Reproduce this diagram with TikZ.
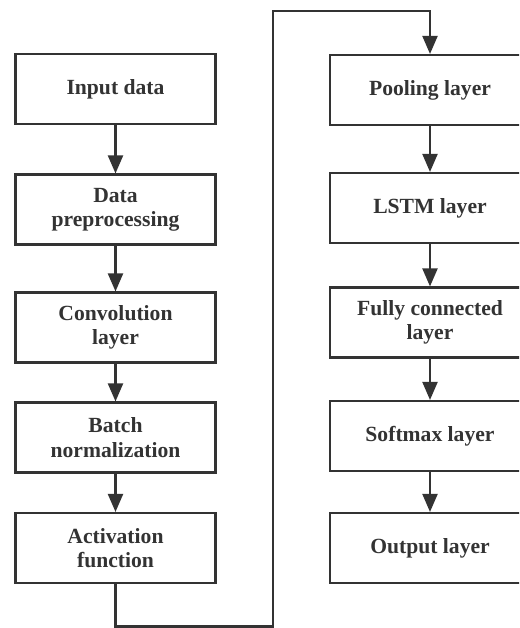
\documentclass[tikz,border=0pt]{standalone}
\usepackage{fontspec}
\setmainfont{Liberation Serif}
\usetikzlibrary{arrows.meta}
\definecolor{ink}{RGB}{51,51,51}
\tikzset{>={Triangle[length=3.6mm,width=3mm]}}
\tikzset{%
    layer/.style={%
        draw=ink, line width=1.2pt, text=ink,
        minimum width=4cm, minimum height=1.4cm, inner sep=2pt,
        align=center, font=\fontsize{12.3}{13.8}\selectfont\bfseries
    },
    flow/.style={->, draw=ink, line width=1.2pt}
}

\begin{document}
\begin{tikzpicture}
    \clip (0,0) rectangle (10.38,12.56);

    % left column
    \node[layer] (input) at (2.31,10.78) {Input data};
    \node[layer] (prep)  at (2.31,8.37)  {Data\\preprocessing};
    \node[layer] (conv)  at (2.31,6.01)  {Convolution\\layer};
    \node[layer] (bn)    at (2.31,3.81)  {Batch\\normalization};
    \node[layer] (act)   at (2.31,1.60)  {Activation\\function};

    % right column
    \node[layer] (pool)  at (8.60,10.76) {Pooling layer};
    \node[layer] (lstm)  at (8.60,8.40)  {LSTM layer};
    \node[layer] (fc)    at (8.60,6.11)  {Fully connected\\layer};
    \node[layer] (soft)  at (8.60,3.84)  {Softmax layer};
    \node[layer] (out)   at (8.60,1.60)  {Output layer};

    \draw[flow] (input) -- (prep);
    \draw[flow] (prep) -- (conv);
    \draw[flow] (conv) -- (bn);
    \draw[flow] (bn) -- (act);

    \draw[flow] (pool) -- (lstm);
    \draw[flow] (lstm) -- (fc);
    \draw[flow] (fc) -- (soft);
    \draw[flow] (soft) -- (out);

    % link between the columns
    \coordinate (turnB) at (5.46,0.03);
    \coordinate (turnT) at (5.46,12.34);
    \draw[flow] (act.south) |- (turnB) -- (turnT) -| (pool.north);
\end{tikzpicture}
\end{document}
